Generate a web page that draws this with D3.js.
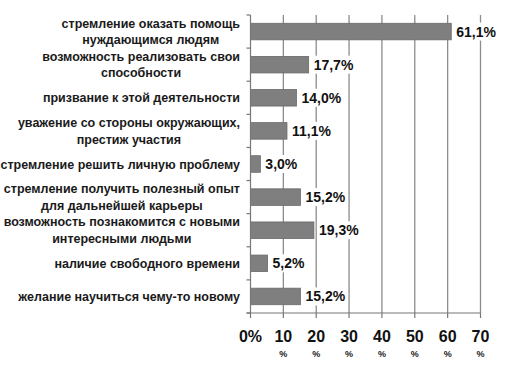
<!DOCTYPE html>
<html><head><meta charset="utf-8">
<script src="https://cdn.jsdelivr.net/npm/d3@7"></script>
<style>body{margin:0;background:#fff}svg{display:block}</style>
</head><body>
<script>
const categories = [
  ["стремление оказать помощь","нуждающимся людям"],
  ["возможность реализовать свои","способности"],
  ["призвание к этой деятельности"],
  ["уважение со стороны окружающих,","престиж участия"],
  ["стремление решить личную проблему"],
  ["стремление получить полезный опыт","для дальнейшей карьеры"],
  ["возможность познакомится с новыми","интересными людьми"],
  ["наличие свободного времени"],
  ["желание научиться чему-то новому"]
];
const values = [61.1, 17.7, 14.0, 11.1, 3.0, 15.2, 19.3, 5.2, 15.2];
const valueLabels = ["61,1%","17,7%","14,0%","11,1%","3,0%","15,2%","19,3%","5,2%","15,2%"];
const ticks = [0,10,20,30,40,50,60,70];

const W=528,H=365;
const svg=d3.select("body").append("svg").attr("width",W).attr("height",H);
const font="'Liberation Sans', Arial, sans-serif";
const x=d3.scaleLinear().domain([0,70]).range([250.5,480.5]);
const y=d3.scaleBand().domain(d3.range(categories.length)).range([15,313]).paddingInner(0.5).paddingOuter(0.25);
const step=y.step();

// gridlines
svg.append("g").selectAll("line").data(ticks.slice(1)).join("line")
  .attr("x1",d=>x(d)).attr("x2",d=>x(d)).attr("y1",15).attr("y2",313)
  .attr("stroke","#8c8c8c").attr("stroke-width",1.3);

// bars
svg.append("g").selectAll("rect").data(values).join("rect")
  .attr("x",x(0)).attr("y",(d,i)=>y(i)).attr("width",d=>x(d)-x(0)).attr("height",y.bandwidth())
  .attr("fill","#7f7f7f").attr("stroke","#6a6a6a").attr("stroke-width",0.8);

// value labels with white background
const vl=svg.append("g").selectAll("g").data(values).join("g")
  .attr("transform",(d,i)=>`translate(${x(d)+5},${y(i)+y.bandwidth()/2})`);
vl.append("rect").attr("x",-2).attr("y",-9).attr("height",18)
  .attr("width",(d,i)=>valueLabels[i].length*8+4).attr("fill","#fff");
vl.append("text").text((d,i)=>valueLabels[i]).attr("dy","0.36em")
  .attr("font-family",font).attr("font-weight","bold").attr("font-size",14).attr("fill","#111");

// left axis
const ax=svg.append("g").attr("stroke","#777").attr("stroke-width",1.2);
ax.append("line").attr("x1",x(0)).attr("x2",x(0)).attr("y1",15).attr("y2",313);
ax.selectAll(".t").data(d3.range(categories.length+1)).join("line")
  .attr("x1",x(0)-4).attr("x2",x(0)).attr("y1",i=>15+step*0.25*0+ (i===0?0:0) + (298/9)*i).attr("y2",i=>15+(298/9)*i);
// bottom axis
ax.append("line").attr("x1",x(0)-4).attr("x2",x(70)).attr("y1",313).attr("y2",313);
ax.selectAll(".b").data(ticks).join("line")
  .attr("x1",d=>x(d)).attr("x2",d=>x(d)).attr("y1",313).attr("y2",318);

// category labels
const cl=svg.append("g").selectAll("text").data(categories).join("text")
  .attr("text-anchor","middle").attr("font-family",font).attr("font-weight","bold")
  .attr("font-size",12.5).attr("fill","#1a1a1a");
cl.each(function(lines,i){
  const t=d3.select(this);
  const cy=y(i)+y.bandwidth()/2;
  const n=lines.length;
  // compute widths to right-align block while centering lines
  lines.forEach((ln,j)=>{
    t.append("tspan").text(ln).attr("y",cy+(j-(n-1)/2)*16.5).attr("dy","0.36em");
  });
});
cl.each(function(lines,i){
  const t=d3.select(this);
  const spans=t.selectAll("tspan").nodes();
  const widths=spans.map(s=>s.getComputedTextLength());
  const maxW=d3.max(widths);
  const cx=240-maxW/2;
  spans.forEach(s=>d3.select(s).attr("x",cx));
});

// tick labels
const tl=svg.append("g").selectAll("g").data(ticks).join("g")
  .attr("transform",d=>`translate(${x(d)},0)`);
tl.append("text").text(d=>d===0?"0%":String(d)).attr("y",342).attr("text-anchor","middle")
  .attr("font-family",font).attr("font-weight","bold").attr("font-size",16).attr("fill","#111");
tl.filter(d=>d!==0).append("text").text("%").attr("y",357).attr("text-anchor","middle")
  .attr("font-family",font).attr("font-weight","bold").attr("font-size",9).attr("fill","#222");
</script>
</body></html>
